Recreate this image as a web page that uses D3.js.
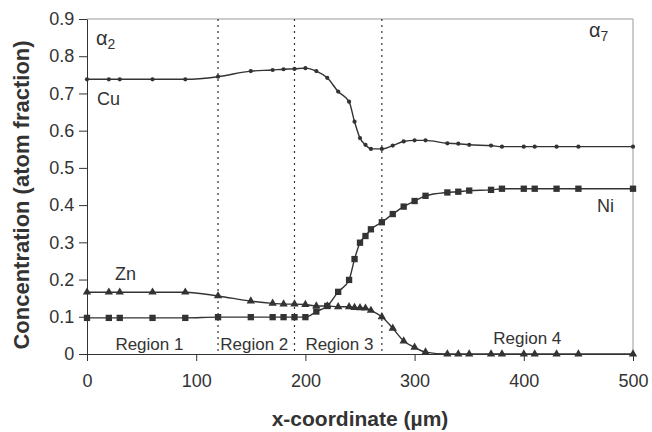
<!DOCTYPE html>
<html>
<head>
<meta charset="utf-8">
<script src="https://cdn.jsdelivr.net/npm/d3@7"></script>
<style>
body { margin: 0; background: #fff; }
text { font-family: "Liberation Sans", Arial, sans-serif; fill: #333; }
</style>
</head>
<body>
<script>
// sample positions (um), shared by all three elements
var xs = [0,20,30,60,90,120,150,170,180,190,200,210,220,230,240,245,250,255,260,270,280,290,300,310,330,340,350,370,380,400,410,430,450,500];

var cu = [0.738,0.738,0.738,0.738,0.738,0.745,0.760,0.763,0.765,0.766,0.768,0.760,0.742,0.705,0.678,0.624,0.580,0.562,0.551,0.551,0.560,0.571,0.574,0.574,0.566,0.565,0.562,0.560,0.557,0.557,0.557,0.557,0.557,0.557];
var ni = [0.097,0.097,0.097,0.097,0.097,0.099,0.099,0.099,0.099,0.099,0.099,0.114,0.129,0.167,0.199,0.255,0.299,0.317,0.335,0.354,0.376,0.396,0.411,0.425,0.434,0.436,0.439,0.441,0.444,0.444,0.444,0.444,0.444,0.444];
var zn = [0.166,0.166,0.166,0.166,0.166,0.156,0.142,0.136,0.134,0.134,0.133,0.129,0.129,0.127,0.127,0.125,0.124,0.123,0.117,0.100,0.069,0.035,0.018,0.005,0,0,0,0,0,0,0,0,0,0];

var boundaries = [120, 190, 270];
var xTicks = [0,100,200,300,400,500];
var yTicks = [0,0.1,0.2,0.3,0.4,0.5,0.6,0.7,0.8,0.9];
var regionLabels = [{x: 26, text: "Region 1"}, {x: 122, text: "Region 2"}, {x: 200, text: "Region 3"}, {x: 372, text: "Region 4"}];

var w = 652, h = 432;
var margin = {left: 87, right: 19, top: 19, bottom: 78};

var svg = d3.select("body").append("svg")
	.attr("width", w)
	.attr("height", h);

var x = d3.scaleLinear().domain([0, 500]).range([margin.left, w - margin.right]);
var y = d3.scaleLinear().domain([0, 0.9]).range([h - margin.bottom, margin.top]);

// frame: top and right in light grey
svg.append("line").attr("x1", x(0)).attr("x2", x(500)).attr("y1", y(0.9)).attr("y2", y(0.9))
	.attr("stroke", "#999").attr("stroke-width", 1);
svg.append("line").attr("x1", x(500)).attr("x2", x(500)).attr("y1", y(0.9)).attr("y2", y(0))
	.attr("stroke", "#999").attr("stroke-width", 1);

// region boundaries
svg.selectAll("line.bound")
	.data(boundaries)
	.enter()
	.append("line")
	.attr("class", "bound")
	.attr("x1", function(d) { return x(d); })
	.attr("x2", function(d) { return x(d); })
	.attr("y1", y(0.9))
	.attr("y2", y(0))
	.attr("stroke", "#333")
	.attr("stroke-width", 1.2)
	.attr("stroke-dasharray", "2,4");

// axes
var xAxis = d3.axisBottom(x).tickValues(xTicks).tickSize(7).tickSizeOuter(0);
var yAxis = d3.axisLeft(y).tickValues(yTicks).tickSize(8).tickSizeOuter(0)
	.tickFormat(function(d) { return d === 0 ? "0" : d3.format(".1f")(d); });

var gx = svg.append("g").attr("transform", "translate(0," + y(0) + ")").call(xAxis);
var gy = svg.append("g").attr("transform", "translate(" + x(0) + ",0)").call(yAxis);

[gx, gy].forEach(function(g) {
	g.selectAll("path, line").attr("stroke", "#333");
	g.selectAll("text").attr("font-size", 18).attr("fill", "#444")
		.attr("font-family", "Liberation Sans, Arial, sans-serif");
});
gx.selectAll("text").attr("dy", "1.25em");
gy.selectAll("text").attr("dx", "-0.1em");

// axis titles
svg.append("text")
	.attr("x", x(250))
	.attr("y", 426)
	.attr("text-anchor", "middle")
	.attr("font-size", 21)
	.attr("font-weight", "bold")
	.attr("fill", "#111")
	.text("x-coordinate (\u00b5m)");

svg.append("text")
	.attr("transform", "translate(29," + 195 + ") rotate(-90)")
	.attr("text-anchor", "middle")
	.attr("font-size", 22)
	.attr("font-weight", "bold")
	.attr("fill", "#111")
	.text("Concentration (atom fraction)");

// curves
var series = [
	{name: "Cu", values: cu, symbol: d3.symbolCircle, size: 14},
	{name: "Ni", values: ni, symbol: d3.symbolSquare, size: 40},
	{name: "Zn", values: zn, symbol: d3.symbolTriangle, size: 30}
];

var line = d3.line()
	.x(function(d) { return x(d[0]); })
	.y(function(d) { return y(d[1]); })
	.curve(d3.curveMonotoneX);

series.forEach(function(s) {
	var pts = xs.map(function(v, i) { return [v, s.values[i]]; });
	svg.append("path")
		.datum(pts)
		.attr("d", line)
		.attr("fill", "none")
		.attr("stroke", "#333")
		.attr("stroke-width", 1.4);
	svg.selectAll("path.m" + s.name)
		.data(pts)
		.enter()
		.append("path")
		.attr("class", "m" + s.name)
		.attr("transform", function(d) { return "translate(" + x(d[0]) + "," + y(d[1]) + ")"; })
		.attr("d", d3.symbol().type(s.symbol).size(s.size))
		.attr("fill", "#333");
});

// labels
svg.selectAll("text.region")
	.data(regionLabels)
	.enter()
	.append("text")
	.attr("class", "region")
	.attr("x", function(d) { return x(d.x); })
	.attr("y", function(d, i) { return i === 3 ? 344 : 350; })
	.attr("font-size", 17)
	.text(function(d) { return d.text; });

svg.append("text").attr("x", 97).attr("y", 105).attr("font-size", 18).text("Cu");
svg.append("text").attr("x", 115).attr("y", 280).attr("font-size", 18).text("Zn");
svg.append("text").attr("x", 597).attr("y", 212).attr("font-size", 18).text("Ni");

function alpha(px, py, sub) {
	var t = svg.append("text").attr("x", px).attr("y", py)
		.attr("font-family", "Liberation Serif, serif").attr("font-size", 20);
	t.append("tspan").text("\u03b1");
	t.append("tspan").attr("font-size", 14).attr("dy", 4).text(sub);
}
alpha(96, 45, "2");
alpha(589, 37, "7");
</script>
</body>
</html>
